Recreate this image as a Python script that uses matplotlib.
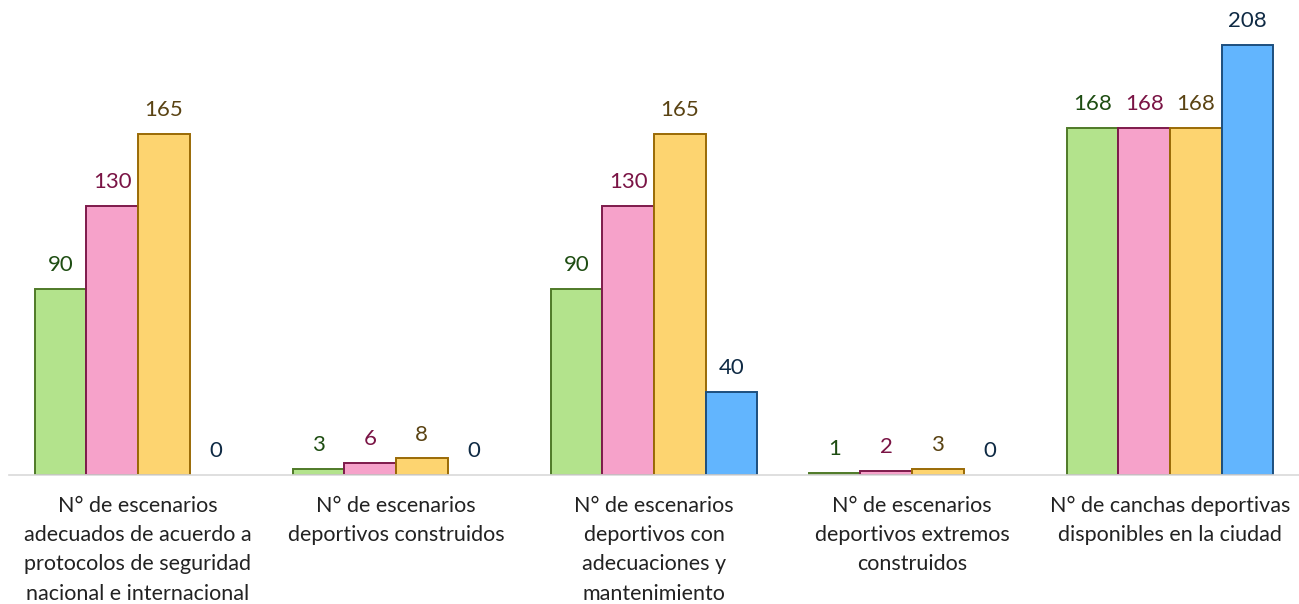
import matplotlib

matplotlib.use('Agg')
import matplotlib.pyplot as plt
import numpy as np

plt.rcParams['font.family'] = ['Lato', 'DejaVu Sans']

# 类别与数据
categories = [
    'N° de escenarios\nadecuados de acuerdo a\nprotocolos de seguridad\nnacional e internacional',
    'N° de escenarios\ndeportivos construidos',
    'N° de escenarios\ndeportivos con\nadecuaciones y\nmantenimiento',
    'N° de escenarios\ndeportivos extremos\nconstruidos',
    'N° de canchas deportivas\ndisponibles en la ciudad',
]
serie_verde = [90, 3, 90, 1, 168]
serie_rosa = [130, 6, 130, 2, 168]
serie_amarilla = [165, 8, 165, 3, 168]
serie_azul = [0, 0, 40, 0, 208]

series = [serie_verde, serie_rosa, serie_amarilla, serie_azul]
fills = ['#B3E38C', '#F6A2CA', '#FDD470', '#62B5FE']
edges = ['#4F7A28', '#7E1A4B', '#9A6A06', '#1D4F7E']
text_colors = ['#1E4D12', '#7A1445', '#5A4313', '#0F2A44']

fig = plt.figure(figsize=(12.99, 6.04), dpi=100)
ax = fig.add_axes([9 / 1299, 129 / 604, 1 - 9 / 1299, 475 / 604])

x = np.arange(len(categories))
width = 0.2
for i, vals in enumerate(series):
    pos = x + (i - 1.5) * width
    bars = ax.bar(pos, vals, width=width, color=fills[i], edgecolor=edges[i], linewidth=1.4)
    for b, v in zip(bars, vals):
        if v == 0:
            b.set_visible(False)  # 零值不画柱子
    for px, v in zip(pos, vals):
        ax.annotate(str(v), (px, v), xytext=(0, 10), textcoords='offset points',
                    ha='center', va='bottom', fontsize=16, color=text_colors[i])

ax.set_xlim(-0.5, len(categories) - 0.5)
ax.set_ylim(0, 229.8)
ax.set_xticks(x)
ax.set_xticklabels(categories, fontsize=15.5, color='#222222', linespacing=1.58)
ax.tick_params(axis='x', length=0, pad=15)
ax.set_yticks([])
for s in ['top', 'right', 'left']:
    ax.spines[s].set_visible(False)
ax.spines['bottom'].set_color('#D9D9D9')
ax.spines['bottom'].set_linewidth(1.2)

fig.savefig('out.png', dpi=100)
